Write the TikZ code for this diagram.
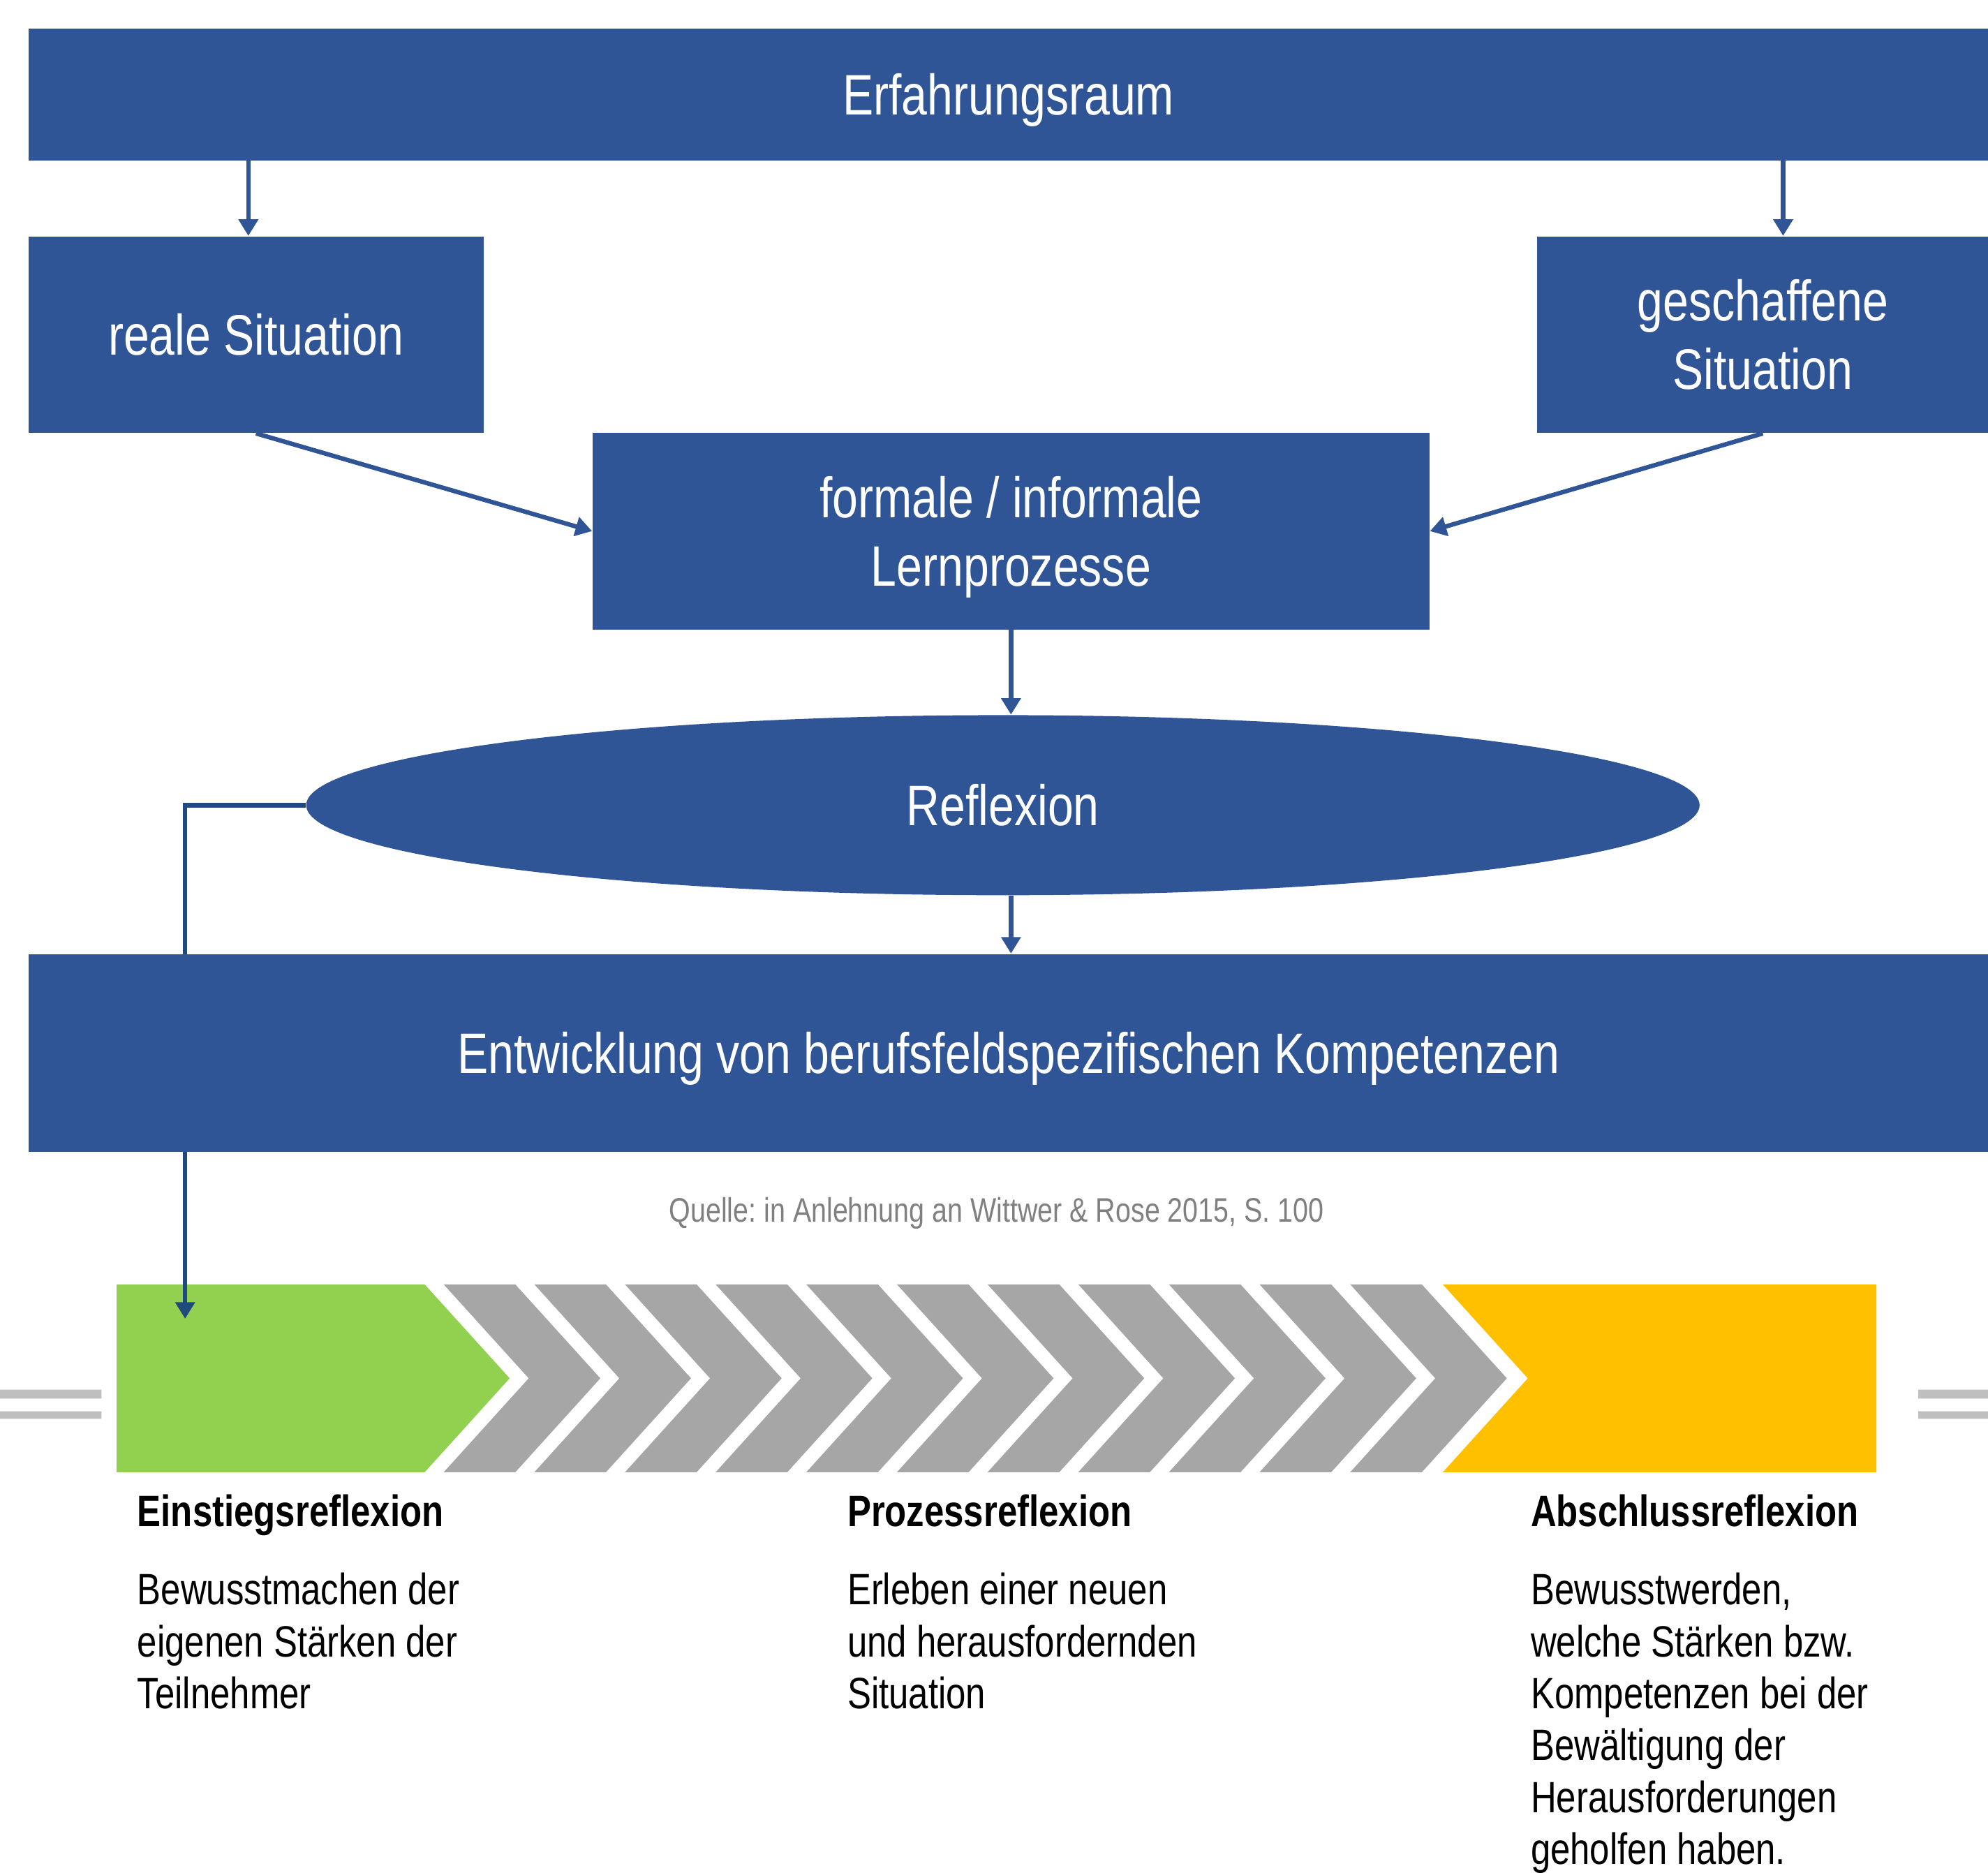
\documentclass[tikz,border=0pt]{standalone}
\usepackage{fontspec}
\setmainfont{Liberation Sans}[FakeStretch=0.81]
\usetikzlibrary{arrows.meta}
\usetikzlibrary{shapes.geometric}
\definecolor{boxblue}{HTML}{2F5597}
\definecolor{linkblue}{HTML}{1F4A7E}
\definecolor{phasegreen}{HTML}{92D050}
\definecolor{phasegray}{HTML}{A6A6A6}
\definecolor{phaseyellow}{HTML}{FFC000}
\definecolor{bargray}{HTML}{BFBFBF}
\definecolor{srcgray}{HTML}{808080}
\newcommand{\boxfont}{\fontsize{22.5pt}{27pt}\selectfont}
\newcommand{\phasefont}{\fontsize{17.3pt}{20.5pt}\selectfont}
\frenchspacing

\begin{document}
\begin{tikzpicture}[x=0.5pt, y=-0.5pt,
    blk/.style={fill=boxblue, text=white, font=\boxfont, align=center,
                inner sep=0pt, text depth=0pt, anchor=north west},
    conn/.style={draw=boxblue, line width=1.75pt,
                 -{Triangle[length=6.5pt,width=7.5pt]}},
    phasehead/.style={anchor=base west, inner sep=0pt, font=\phasefont\bfseries},
    phasetext/.style={anchor=north west, inner sep=0pt, font=\phasefont, align=left}]
    \useasboundingbox (0,0) rectangle (1568,1477);

    % side bars
    \fill[bargray] (0,1096) rectangle (80,1103) (0,1113) rectangle (80,1119);
    \fill[bargray] (1513,1096) rectangle (1568,1103) (1513,1113) rectangle (1568,1119);

    % phase band
    \fill[phasegreen] (92,1013) -- (335,1013) -- (402,1087) -- (335,1161) -- (92,1161) -- cycle;
    \foreach \i in {0,...,10}{
      \pgfmathsetmacro{\s}{350+71.5*\i}
      \fill[phasegray] (\s,1013) -- (\s+56.5,1013) -- (\s+123.5,1087)
        -- (\s+56.5,1161) -- (\s,1161) -- (\s+67,1087) -- cycle;
    }
    \fill[phaseyellow] (1138,1013) -- (1480,1013) -- (1480,1161) -- (1138,1161) -- (1205,1087) -- cycle;

    % blocks
    \node[blk, minimum width=773pt, minimum height=52pt] (erf) at (22,22) {Erfahrungsraum};
    \node[blk, minimum width=179.5pt, minimum height=77.5pt] (reale) at (22,186) {reale Situation};
    \node[blk, minimum width=178pt, minimum height=77.5pt] (gesch) at (1212,186) {geschaffene\\Situation};
    \node[blk, minimum width=330pt, minimum height=77.5pt] (lern) at (467,341) {formale / informale\\Lernprozesse};
    \node[ellipse, fill=boxblue, text=white, font=\boxfont, inner sep=0pt,
          minimum width=549.5pt, minimum height=71pt] (refl) at (791,635) {Reflexion};

    \coordinate (hit) at (146,1040);
    \draw[conn, draw=linkblue] (refl.west) -| (hit);

    \node[blk, minimum width=773pt, minimum height=78pt] (entw) at (22,752)
      {Entwicklung von berufsfeldspezifischen Kompetenzen};

    \path ([xshift=-3pt]reale.north |- erf.south) edge[conn] ([xshift=-3pt]reale.north);
    \path ([xshift=8pt]gesch.north |- erf.south) edge[conn] ([xshift=8pt]gesch.north);
    \path (reale.south) edge[conn] (lern.west);
    \path (gesch.south) edge[conn] (lern.east);
    \path (lern.south) edge[conn] (lern.south |- refl.north);
    \path (lern.south |- refl.south) edge[conn] (lern.south |- entw.north);

    \node[text=srcgray, font=\fontsize{13.4pt}{16pt}\selectfont] (quelle) at (786,957)
      {Quelle: in Anlehnung an Wittwer \& Rose 2015, S. 100};

    % phase captions
    \node[phasehead] (einst) at (108,1204) {Einstiegsreflexion};
    \node[phasetext] (einstTxt) at (108,1240) {Bewusstmachen der\\eigenen Stärken der\\Teilnehmer};
    \node[phasehead] (proz) at (668,1204) {Prozessreflexion};
    \node[phasetext] (prozTxt) at (668,1240) {Erleben einer neuen\\und herausfordernden\\Situation};
    \node[phasehead] (absch) at (1207,1204) {Abschlussreflexion};
    \node[phasetext] (abschTxt) at (1207,1240) {Bewusstwerden,\\welche Stärken bzw.\\Kompetenzen bei der\\Bewältigung der\\Herausforderungen\\geholfen haben.};
\end{tikzpicture}
\end{document}
